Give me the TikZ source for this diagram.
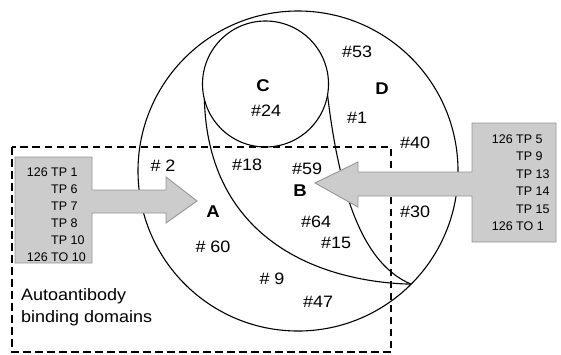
\documentclass[tikz,border=0pt]{standalone}
\usepackage{fontspec}
\setmainfont{Liberation Sans}
\newfontfamily\wfont{Liberation Sans}[FakeStretch=1.09]
\definecolor{boxfill}{RGB}{204,204,204}
\definecolor{boxline}{RGB}{150,150,150}
\begin{document}
\begin{tikzpicture}[x=1pt,y=-1pt,
  lab/.style={font=\wfont\fontsize{16.5}{18}\selectfont, inner sep=0pt, text height=11.8pt, text depth=0pt},
  big/.style={font=\wfont\bfseries\fontsize{17}{19}\selectfont, inner sep=0pt, text height=12.2pt, text depth=0pt},
  boxlab/.style={font=\fontsize{12.5}{14}\selectfont, inner sep=0pt, text height=9pt, text depth=0pt},
  note/.style={font=\wfont\fontsize{16.5}{18}\selectfont, inner sep=0pt, anchor=base west},
  garrow/.style={fill=boxfill, draw=boxline, line width=0.9pt},
  ring/.style={circle, draw, line width=1.1pt, outer sep=0pt, inner sep=0pt},
  lobe/.style={draw, line width=1.1pt},
  region/.style={draw, line width=1.1pt, dash pattern=on 7.5pt off 4.5pt}]
\useasboundingbox (0,0) rectangle (561,354);
% dashed region
\draw[region] (12,147) rectangle (391,352);
% circles
\node[ring, minimum size=320pt] (bigc) at (298,171) {};
\node[ring, minimum size=126pt] (smallc) at (265.5,84) {};
\coordinate (meet) at (bigc.-45);
\draw[lobe] (smallc.194) .. controls (208,240) and (320,282) .. (meet);
\draw[lobe] (smallc.-10) .. controls (340,200) and (365,265) .. (meet);
% labels
\node[lab] (n53) at (357,52) {\#53};
\node[big] (lC) at (263,85) {C};
\node[lab] (n24) at (266,111) {\#24};
\node[big] (lD) at (382,88) {D};
\node[lab] (n1) at (357,118) {\#1};
\node[lab] (n40) at (415,143) {\#40};
\node[lab] (n2) at (163,166) {\# 2};
\node[lab] (n18) at (247,165) {\#18};
\node[lab] (n59) at (307,169) {\#59};
\node[big] (lB) at (300,190) {B};
\node[big] (lA) at (213,211) {A};
\node[lab] (n64) at (316,222) {\#64};
\node[lab] (n15) at (336,243) {\#15};
\node[lab] (n60) at (213,247) {\# 60};
\node[lab] (n9) at (272,279) {\# 9};
\node[lab] (n47) at (318,302) {\#47};
\node[lab] (n30) at (415,212) {\#30};
\node[note] (t1) at (21,300) {Autoantibody};
\node[note] (t2) at (21,322.3) {binding domains};
% left box arrow
\draw[garrow] (15,157) -- (92,157) -- (92,190) -- (166,190) -- (166,177) -- (197,201)
  -- (166,223) -- (166,213) -- (92,213) -- (92,263) -- (15,263) -- cycle;
\node[boxlab, anchor=east] (l1a) at (48,171.7) {126};
\node[boxlab, anchor=west] (l1b) at (51,171.7) {TP 1};
\node[boxlab, anchor=west] (l2) at (51,188.8) {TP 6};
\node[boxlab, anchor=west] (l3) at (51,205.9) {TP 7};
\node[boxlab, anchor=west] (l4) at (51,223.0) {TP 8};
\node[boxlab, anchor=west] (l5) at (51,240.1) {TP 10};
\node[boxlab, anchor=east] (l6a) at (48,257.2) {126};
\node[boxlab, anchor=west] (l6b) at (51,257.2) {TO 10};
% right box arrow
\draw[garrow] (556,123) -- (472,123) -- (472,172) -- (358,172) -- (358,162) -- (315,183)
  -- (358,207) -- (358,196) -- (472,196) -- (472,242) -- (556,242) -- cycle;
\node[boxlab, anchor=east] (r1a) at (513,139) {126};
\node[boxlab, anchor=west] (r1b) at (516,139) {TP 5};
\node[boxlab, anchor=west] (r2) at (516,156.4) {TP 9};
\node[boxlab, anchor=west] (r3) at (516,173.8) {TP 13};
\node[boxlab, anchor=west] (r4) at (516,191.2) {TP 14};
\node[boxlab, anchor=west] (r5) at (516,208.6) {TP 15};
\node[boxlab, anchor=east] (r6a) at (513,226) {126};
\node[boxlab, anchor=west] (r6b) at (516,226) {TO 1};
\end{tikzpicture}
\end{document}
